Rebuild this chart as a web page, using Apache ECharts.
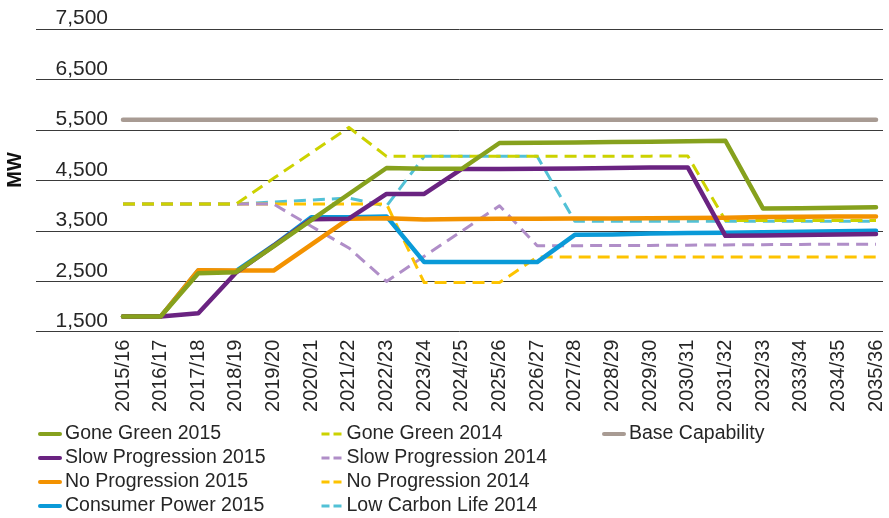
<!DOCTYPE html>
<html>
<head>
<meta charset="utf-8">
<script src="https://cdn.jsdelivr.net/npm/echarts@6/dist/echarts.min.js"></script>
<style>
  html, body { margin: 0; padding: 0; background: #fff; }
  #chart { width: 889px; height: 518px; }
</style>
</head>
<body>
<div id="chart"></div>
<script>
// Financial years on the horizontal axis
const years = ['2015/16','2016/17','2017/18','2018/19','2019/20','2020/21','2021/22',
  '2022/23','2023/24','2024/25','2025/26','2026/27','2027/28','2028/29','2029/30',
  '2030/31','2031/32','2032/33','2033/34','2034/35','2035/36'];

// MW values per scenario
const goneGreen2015 = [1800,1800,2660,2680,3190,3710,4230,4745,4730,4730,5240,5245,5250,5260,5265,5275,5285,3940,3945,3955,3965];
const slowProgression2015 = [1800,1800,1865,2670,3200,3730,3740,4230,4230,4725,4725,4730,4735,4745,4755,4757,3400,3405,3415,3425,3435];
const noProgression2015 = [1800,1800,2720,2712,2712,3225,3740,3750,3725,3732,3738,3738,3745,3745,3750,3752,3758,3772,3780,3785,3785];
const consumerPower2015 = [1800,1800,2715,2700,3210,3770,3770,3785,2880,2880,2880,2880,3420,3427,3446,3454,3460,3470,3480,3490,3500];
const goneGreen2014 = [4030,4030,4030,4030,4540,5045,5550,4976,4976,4976,4976,4976,4976,4976,4980,4985,3705,3705,3705,3705,3705];
const slowProgression2014 = [4030,4030,4030,4030,4030,3590,3160,2495,2995,3495,3996,3205,3205,3210,3210,3215,3220,3225,3230,3235,3235];
const noProgression2014 = [4030,4030,4030,4030,4030,4030,4030,4030,2473,2473,2473,2980,2980,2980,2980,2980,2980,2980,2980,2980,2980];
const lowCarbonLife2014 = [4030,4030,4030,4030,4070,4110,4150,3990,4976,4976,4976,4976,3690,3690,3690,3690,3690,3690,3690,3690,3690];
const baseCapability = [5700,5700,5700,5700,5700,5700,5700,5700,5700,5700,5700,5700,5700,5700,5700,5700,5700,5700,5700,5700,5700];

// Value axis ticks
const yTicks = [1500, 2500, 3500, 4500, 5500, 6500, 7500];

const FONT = '"Liberation Sans", Arial, Helvetica, sans-serif';
const TEXT = '#262626';
const DASH = [12, 7];

function line(name, data, color, dashed, width) {
  return {
    name, type: 'line', data,
    xAxisIndex: 1, yAxisIndex: 1,
    symbol: 'none', smooth: false,
    lineStyle: { color, width: width, type: dashed ? DASH : 'solid',
                 cap: dashed ? 'butt' : 'round', join: 'round' },
    itemStyle: { color },
    emphasis: { disabled: true },
    animation: false
  };
}

const colours = {
  gg15: '#86a11d', sp15: '#6a2381', np15: '#f39200', cp15: '#0a9ad8',
  gg14: '#ccd200', sp14: '#b08ec8', np14: '#fdc300', lcl14: '#52c1d6',
  base: '#a89b93'
};

// Legend swatch: a short line (dashed for the 2014 scenarios), no marker
function legendItem(name, colour, dashed) {
  return {
    name,
    itemStyle: { color: colour, opacity: 0 },
    lineStyle: { color: colour, width: dashed ? 3 : 4, type: dashed ? [8, 4] : 'solid',
                 cap: dashed ? 'butt' : 'round', opacity: 1 }
  };
}

const legendCommon = {
  orient: 'vertical', selectedMode: false,
  itemWidth: 20, itemHeight: 14, itemGap: 4, padding: 0,
  textStyle: { fontFamily: FONT, fontSize: 19.5, color: TEXT, lineHeight: 20 }
};

const chart = echarts.init(document.getElementById('chart'), null, { renderer: 'canvas' });

chart.setOption({
  animation: false,
  backgroundColor: '#fff',
  grid: [
    { left: 36, right: 6, top: 29, bottom: 186.3 },
    { left: 123, right: 13, top: 29, bottom: 186.3 }
  ],
  xAxis: [
    { type: 'category', gridIndex: 0, data: years, show: false },
    {
      type: 'category', gridIndex: 1, data: years, boundaryGap: false,
      axisLine: { show: false }, axisTick: { show: false },
      axisLabel: { rotate: 90, interval: 0, margin: 8, fontFamily: FONT, fontSize: 20, color: TEXT }
    }
  ],
  yAxis: [
    {
      type: 'value', gridIndex: 0, min: yTicks[0], max: yTicks[yTicks.length - 1], interval: 1000,
      axisLine: { show: false }, axisTick: { show: false },
      splitLine: { show: true, lineStyle: { color: '#3a3a3a', width: 1 } },
      axisLabel: {
        inside: true, margin: 72, align: 'right', verticalAlign: 'bottom', padding: 0,
        fontFamily: FONT, fontSize: 21, color: TEXT,
        formatter: v => v.toLocaleString('en-US')
      }
    },
    {
      type: 'value', gridIndex: 1, min: yTicks[0], max: yTicks[yTicks.length - 1], interval: 1000,
      show: false, splitLine: { show: false }
    }
  ],
  legend: [
    Object.assign({}, legendCommon, { left: 38, top: 424, data: [
      legendItem('Gone Green 2015', colours.gg15, false),
      legendItem('Slow Progression 2015', colours.sp15, false),
      legendItem('No Progression 2015', colours.np15, false),
      legendItem('Consumer Power 2015', colours.cp15, false)
    ]}),
    Object.assign({}, legendCommon, { left: 320, top: 424, data: [
      legendItem('Gone Green 2014', colours.gg14, true),
      legendItem('Slow Progression 2014', colours.sp14, true),
      legendItem('No Progression 2014', colours.np14, true),
      legendItem('Low Carbon Life 2014', colours.lcl14, true)
    ]}),
    Object.assign({}, legendCommon, { left: 602, top: 424, data: [
      legendItem('Base Capability', colours.base, false)
    ]})
  ],
  graphic: [{
    type: 'text', x: 15, y: 170, rotation: Math.PI / 2,
    style: { text: 'MW', fontFamily: FONT, fontSize: 20, fontWeight: 'bold', fill: '#111',
             align: 'center', verticalAlign: 'middle' }
  }],
  series: [
    line('Low Carbon Life 2014', lowCarbonLife2014, colours.lcl14, true, 3),
    line('No Progression 2014', noProgression2014, colours.np14, true, 3),
    line('Slow Progression 2014', slowProgression2014, colours.sp14, true, 3),
    line('Gone Green 2014', goneGreen2014, colours.gg14, true, 3),
    line('Base Capability', baseCapability, colours.base, false, 4.5),
    line('Consumer Power 2015', consumerPower2015, colours.cp15, false, 4.5),
    line('No Progression 2015', noProgression2015, colours.np15, false, 4.5),
    line('Slow Progression 2015', slowProgression2015, colours.sp15, false, 4.5),
    line('Gone Green 2015', goneGreen2015, colours.gg15, false, 4.5)
  ]
});
</script>
</body>
</html>
